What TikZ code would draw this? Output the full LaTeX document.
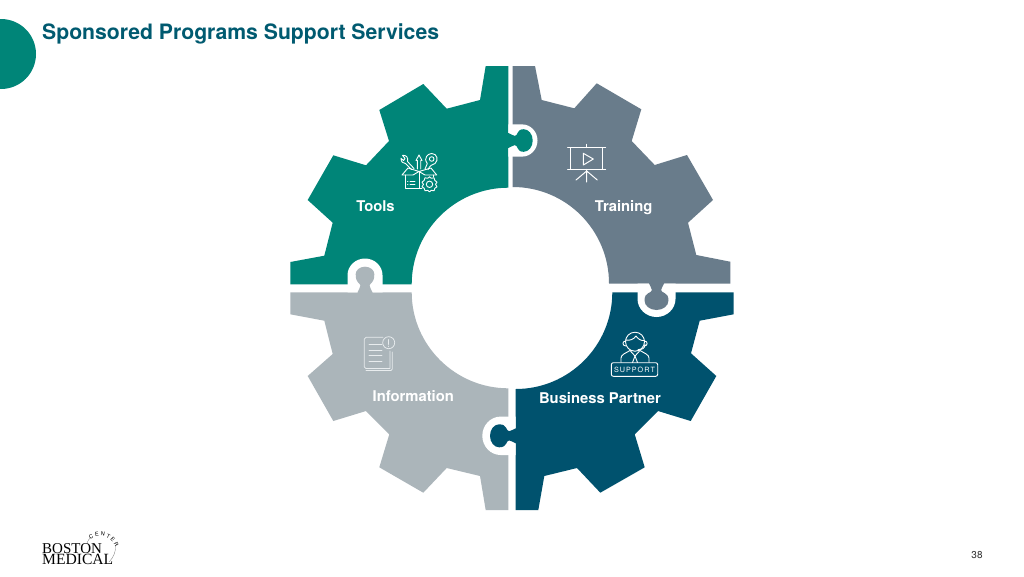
\documentclass[tikz,border=0pt]{standalone}
\usepackage{fontspec}
\setmainfont{TeX Gyre Heros}
\newfontfamily\serifbrand{Liberation Serif}
\usetikzlibrary{decorations.text}
\definecolor{cTeal}{HTML}{008578}
\definecolor{cSlate}{HTML}{697C8B}
\definecolor{cSilver}{HTML}{ABB5BA}
\definecolor{cNavy}{HTML}{00526E}
\definecolor{cTitle}{HTML}{005A70}
\definecolor{cIconSilver}{HTML}{E8ECEE}
\tikzset{
  tag/.style={anchor=base,font=\bfseries\fontsize{14.8}{16}\selectfont,text=white,inner sep=0pt},
  icon/.style={draw=white,line width=0.9pt,line cap=round,line join=round},
  iconsoft/.style={draw=cIconSilver,line width=0.75pt,line cap=round,line join=round},
}
% puzzle tab: x, y, rotation, colour, head half width, length, halo width
\newcommand{\tabshape}[7]{%
  \begin{scope}[shift={(#1,#2)},rotate=#3]
    \pgfmathsetmacro{\hh}{#5}\pgfmathsetmacro{\ll}{#6}\pgfmathsetmacro{\oo}{#5+#7}\pgfmathsetmacro{\lo}{#6+#7}
    \pgfmathsetmacro{\lm}{\lo-\oo*0.95}\pgfmathsetmacro{\oc}{\oo*0.55}\pgfmathsetmacro{\lc}{\lm+\oo*0.52}
    \pgfmathsetmacro{\hc}{\hh*0.55}\pgfmathsetmacro{\la}{\ll-\hh*0.8}\pgfmathsetmacro{\lb}{\la+\hh*0.45}
    \fill[white] (0,-\oo) -- (\lm,-\oo) .. controls (\lc,-\oo) and (\lo,-\oc) .. (\lo,0)
      .. controls (\lo,\oc) and (\lc,\oo) .. (\lm,\oo) -- (0,\oo) -- cycle;
    \fill[#4] (-1,-7.5) -- (0,-7.5) .. controls (3,-7) and (3.5,-4.6) .. (6.5,-4.6)
      .. controls (10,-4.6) and (8,-\hh) .. (\la,-\hh)
      .. controls (\lb,-\hh) and (\ll,-\hc) .. (\ll,0)
      .. controls (\ll,\hc) and (\lb,\hh) .. (\la,\hh)
      .. controls (8,\hh) and (10,4.6) .. (6.5,4.6)
      .. controls (3.5,4.6) and (3,7) .. (0,7.5) -- (-1,7.5) -- cycle;
  \end{scope}}
\begin{document}
\begin{tikzpicture}[x=1pt,y=-1pt]
\useasboundingbox (0,0) rectangle (1024,576);
\fill[white] (0,0) rectangle (1024,576);
% corner disc
\begin{scope}
  \clip (0,0) rectangle (1024,576);
  \fill[cTeal] (1,54) circle (35);
\end{scope}
\node[anchor=base west,inner sep=0pt,text=cTitle,font=\bfseries\fontsize{21.2}{24}\selectfont] (title) at (42,39.5) {Sponsored Programs Support Services};

% Tools
\fill[cTeal] (485.7,66) -- (508.3,66) -- (508.3,187.7)
  .. controls (455,187.7) and (411.7,231) .. (411.7,284.3)
  -- (290.3,284.3) -- (290.3,262) -- (324.3,255.7) -- (332.7,222.7) -- (307.7,200)
  -- (333.3,155.3) -- (366,165.3) -- (389,141) -- (379.3,110) -- (423.3,84)
  -- (446.7,108.7) -- (480,100) -- cycle;
% Training
\fill[cSlate] (512.7,66) -- (535,66) -- (541.7,100) -- (574.3,108.3) -- (596.7,83.3)
  -- (641.3,109.3) -- (631.7,141) -- (654.7,165) -- (687,155) -- (713,200)
  -- (688,222.7) -- (696.3,255) -- (730.3,261.7) -- (730.3,283.5) -- (609,283.5)
  .. controls (609,230) and (566,187) .. (512.7,187) -- cycle;
% Information
\fill[cSilver] (290.3,292.3) -- (411.7,292.3)
  .. controls (411.7,345) and (455,388.3) .. (508.3,388.3)
  -- (508.3,510) -- (485.7,510) -- (480,476) -- (446.7,468) -- (423.3,492.7)
  -- (379.3,467.3) -- (389.3,434.3) -- (366,411) -- (333.3,421) -- (307.7,376)
  -- (332.7,354) -- (324.3,320.7) -- (290.3,314.3) -- cycle;
% Business Partner
\fill[cNavy] (612.3,292.3) -- (733.7,292.3) -- (733.7,314.3) -- (699.7,320.7)
  -- (691,353.3) -- (716.3,376) -- (690.7,421) -- (658,411) -- (634.7,434.3)
  -- (644.7,467.3) -- (600.3,492.7) -- (577,468) -- (544.3,476) -- (538.3,510)
  -- (515.7,510) -- (515.7,389)
  .. controls (569,389) and (612.3,345.7) .. (612.3,292.3) -- cycle;

% puzzle tabs
\tabshape{508.3}{140.5}{0}{cTeal}{11.3}{24.4}{4.8}
\tabshape{656.5}{283.5}{-90}{cSlate}{12}{26.5}{7}
\tabshape{515.7}{435.8}{180}{cNavy}{11.5}{25.7}{7.7}
\tabshape{365}{292.3}{90}{cSilver}{9.3}{25.6}{8.2}

% Tools icon
\begin{scope}[icon]
  \draw (405,175) -- (405,188.3) -- (422,188.3);
  \draw (402,175) -- (408,168) -- (419,171.5) -- (431,168) -- (436.7,175) -- (425,175) -- (419,171.5) -- (413,175) -- cycle;
  \draw (419,171.5) -- (419,188);
  \draw (433.5,175) -- (433.5,177);
  \draw (407.5,181.5) -- (408,181.5) (410,181.5) -- (415,181.5) (407.5,184.5) -- (408,184.5) (410,184.5) -- (415,184.5);
  \draw (414,168.5) -- (407.5,161.5) .. controls (408.5,157) and (406,155) .. (402.5,155.3) -- (405,158.5) -- (403.5,160.5) -- (401,158.3) .. controls (401,162) and (403,163.5) .. (405.5,163.5) -- (411.5,169.5);
  \draw (417.3,169) -- (417.3,160.5) -- (416,160.5) -- (419,155) -- (422,160.5) -- (420.7,160.5) -- (420.7,169);
  \draw (431.7,159) circle (2.3);
  \draw (425,169) -- (427.3,163.5) .. controls (423,158) and (428,153.5) .. (431.7,153.5) .. controls (437,153.5) and (439,160) .. (435,163.5) .. controls (432,165) and (430,165) .. (428,169.5);
  \draw (429.5,184.3) circle (3.2);
  \draw plot[smooth cycle,tension=0.25] coordinates {(429.5,176.8) (431.3,178.3) (434,177.8) (434.8,180.3) (437,182.3) (435.5,184.3) (437,186.8) (434.8,188.3) (434,190.8) (431.3,190.3) (429.5,191.8) (427.7,190.3) (425,190.8) (424.2,188.3) (422,186.8) (423.5,184.3) (422,182.3) (424.2,180.3) (425,177.8) (427.7,178.3)};
\end{scope}
% Training icon
\begin{scope}[icon,line width=1pt]
  \draw (567.7,147.7) -- (605.7,147.7);
  \draw (567.7,169.3) -- (605.7,169.3);
  \draw (570.7,147.7) -- (570.7,169.3) (602.7,147.7) -- (602.7,169.3);
  \draw (586.7,144.3) -- (586.7,147.7);
  \draw (586.7,169.3) -- (586.7,182) (586.7,171) -- (576,180) (586.7,171) -- (597.3,180);
  \draw (583.3,153.3) -- (593.3,159) -- (583.3,165) -- cycle;
\end{scope}
% Information icon
\begin{scope}[iconsoft]
  \draw (383,337.3) -- (366,337.3) -- (364.3,339) -- (364.3,367) -- (366,368.5) -- (390,368.5) -- (390,351);
  \draw (366,370.5) -- (391,370.5) -- (392.3,369) -- (392.3,352);
  \draw (388.7,342.7) circle (6);
  \draw (388.7,339.5) -- (388.7,344.5) (388.7,346) -- (388.7,346.5);
  \draw (369,344.3) -- (382,344.3) (369,350) -- (382,350) (369,355.5) -- (382,355.5) (369,361) -- (382,361);
\end{scope}
% Support icon
\begin{scope}[icon]
  \draw[rounded corners=2pt] (611.3,362.7) rectangle (657.7,376.3);
  \draw (635,341.7) circle (9.5);
  \draw (625.5,340) .. controls (630,341) and (634,339) .. (636,336) .. controls (638,339) and (641,341) .. (644.5,340.5);
  \draw (625.7,341) .. controls (622,341) and (622,346) .. (626,346);
  \draw (644.5,341) .. controls (648,341) and (648,346) .. (644.3,346);
  \draw (645,344) .. controls (645,349) and (642,349.5) .. (638,349.5);
  \draw (621,362.3) -- (621,358) .. controls (621,354.5) and (626,353) .. (630,350.5);
  \draw (649,362.3) -- (649,358) .. controls (649,354.5) and (644,353) .. (640,350.5);
  \draw (630,350.5) -- (635,356) -- (640,350.5);
  \draw (635,356) -- (632.5,362.5) (635,356) -- (637.5,362.5);
\end{scope}
\node[inner sep=0pt,text=white,font=\fontsize{7.2}{8}\selectfont] (supporttag) at (634.5,369.7) {S\kern1pt U\kern1pt P\kern1pt P\kern1pt O\kern1pt R\kern1pt T};

% labels
\node[tag] (tools) at (375.5,211) {Tools};
\node[tag] (training) at (623.7,211) {Training};
\node[tag] (information) at (413.3,401.5) {Information};
\node[tag] (business) at (600,403.2) {Business Partner};

% logo
\node[anchor=base west,inner sep=0pt,text=black,font=\serifbrand\fontsize{15}{15}\selectfont] (boston) at (42,553.2) {BOSTON};
\node[anchor=base west,inner sep=0pt,text=black,font=\serifbrand\fontsize{15.6}{15.6}\selectfont] (medical) at (42,564) {MEDICAL};
\draw[gray,line width=0.35pt] (87,543) .. controls (87.8,540.5) and (89,538.8) .. (91,537.3);
\draw[gray,line width=0.35pt] (115.6,545) .. controls (116,551) and (114,557) .. (109,562);
\path[postaction={decorate,decoration={text along path,text align=center,
   text={|\fontsize{5.5}{5.5}\selectfont|C E N T E R}}}]
  (89.7,539.7) .. controls (98.7,532.2) and (112.5,536.6) .. (115.5,547.9);

\node[inner sep=0pt,text=black!80,font=\fontsize{10}{11}\selectfont] (pageno) at (977,555) {38};
\end{tikzpicture}
\end{document}
